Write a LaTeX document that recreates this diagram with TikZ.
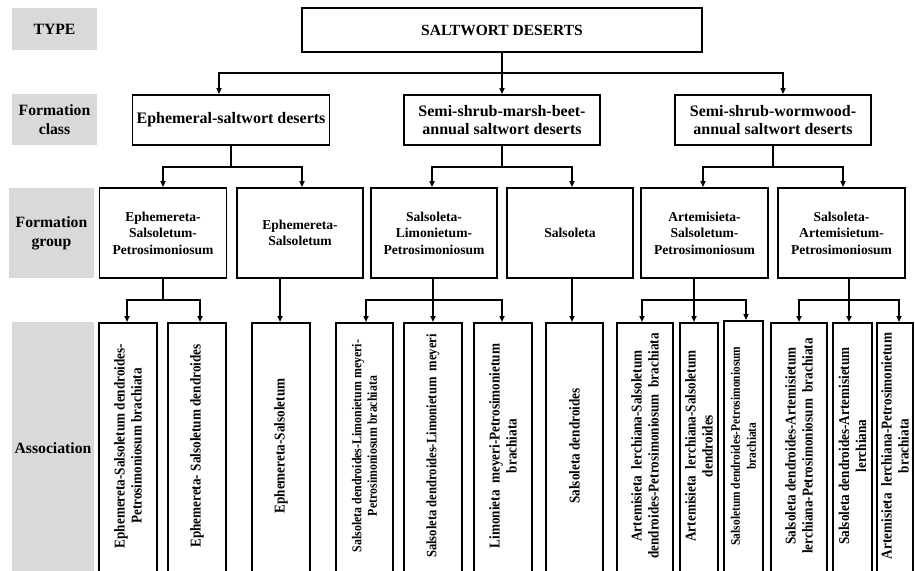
\documentclass[tikz,border=0pt]{standalone}
\usepackage{fontspec}
\setmainfont{Liberation Serif}
\newfontfamily\condserif{Liberation Serif}[FakeStretch=0.88]
\usetikzlibrary{arrows.meta}
\definecolor{labelgray}{HTML}{D9D9D9}

\begin{document}
\begin{tikzpicture}[x=1pt,y=-1pt,
  lbl/.style={fill=labelgray, draw=none, inner sep=0pt, align=center,
    minimum width=85pt, font=\bfseries\fontsize{15.7}{19}\selectfont},
  box/.style={draw, line width=1.8pt, inner sep=0pt, align=center},
  classbox/.style={box, minimum width=196pt, minimum height=50pt,
    font=\bfseries\fontsize{16}{18.5}\selectfont},
  groupbox/.style={box, minimum width=126pt, minimum height=90pt,
    font=\bfseries\fontsize{13.6}{16.5}\selectfont},
  assocbox/.style={box, anchor=north, minimum height=270pt},
  assoctext/.style={rotate=90, inner sep=0pt, align=center,
    font=\condserif\bfseries\fontsize{15}{17}\selectfont},
  link/.style={line width=1.6pt, line cap=rect},
  arrow/.style={link, -{Triangle[length=6pt,width=5pt]}}
]
\useasboundingbox (0,0) rectangle (915,570);
\clip (0,0) rectangle (915,570);

% level labels
\node[lbl, minimum height=42pt] (ltype) at (54.5,29) {TYPE};
\node[lbl, minimum height=51pt] (lclass) at (54.5,119.5) {Formation\\class};
\node[lbl, minimum height=90pt] (lgroup) at (51.5,233) {Formation\\group};
\node[lbl, anchor=north, minimum width=82pt, minimum height=252pt] (lassoc) at (53,322) {Association};

% type
\node[box, minimum width=400pt, minimum height=44pt,
  font=\bfseries\fontsize{15.5}{18}\selectfont] (top) at (502,30) {SALTWORT DESERTS};

% formation classes
\node[classbox, minimum width=197pt] (c1) at (231,120) {Ephemeral-saltwort deserts};
\node[classbox] (c2) at (502,120) {Semi-shrub-marsh-beet-\\annual saltwort deserts};
\node[classbox] (c3) at (773,120) {Semi-shrub-wormwood-\\annual saltwort deserts};

% formation groups
\node[groupbox, minimum width=127pt] (g1) at (163,233) {Ephemereta-\\Salsoletum-\\Petrosimoniosum};
\node[groupbox] (g2) at (300,233) {Ephemereta-\\Salsoletum};
\node[groupbox] (g3) at (434,233) {Salsoleta-\\Limonietum-\\Petrosimoniosum};
\node[groupbox] (g4) at (570,233) {Salsoleta};
\node[groupbox, minimum width=127pt] (g5) at (704.5,233) {Artemisieta-\\Salsoletum-\\Petrosimoniosum};
\node[groupbox, minimum width=127pt] (g6) at (841.5,233) {Salsoleta-\\Artemisietum-\\Petrosimoniosum};

% associations
\node[assocbox, minimum width=58pt] (a1) at (128,322) {};
\node[assocbox, minimum width=58pt] (a2) at (197,322) {};
\node[assocbox, minimum width=58pt] (a3) at (281,322) {};
\node[assocbox, minimum width=57pt] (a4) at (364.5,322) {};
\node[assocbox, minimum width=58pt] (a5) at (433,322) {};
\node[assocbox, minimum width=58pt] (a6) at (503,322) {};
\node[assocbox, minimum width=57pt] (a7) at (574.5,322) {};
\node[assocbox, minimum width=56pt] (a8) at (645,322) {};
\node[assocbox, minimum width=38pt] (a9) at (699,322) {};
\node[assocbox, minimum width=39pt] (a10) at (743.5,320) {};
\node[assocbox, minimum width=56pt] (a11) at (799,322) {};
\node[assocbox, minimum width=39pt] (a12) at (852.5,322) {};
\node[assocbox, minimum width=36pt] (a13) at (895,322) {};

\node[assoctext] (a1t) at (a1.north |- 0,446) {Ephemereta-Salsoletum dendroides-\\Petrosimoniosum brachiata};
\node[assoctext] (a2t) at (a2.north |- 0,446) {Ephemereta- Salsoletum dendroides};
\node[assoctext] (a3t) at (a3.north |- 0,446) {Ephemereta-Salsoletum};
\node[assoctext, font=\condserif\bfseries\fontsize{13.5}{15.5}\selectfont] (a4t) at (a4.north |- 0,446) {Salsoleta dendroides-Limonietum meyeri-\\Petrosimoniosum brachiata};
\node[assoctext, font=\condserif\bfseries\fontsize{14.3}{17}\selectfont] (a5t) at (a5.north |- 0,446) {Salsoleta dendroides-Limonietum\ \ meyeri};
\node[assoctext] (a6t) at (a6.north |- 0,446) {Limonieta\ \ meyeri-Petrosimonietum\\brachiata};
\node[assoctext] (a7t) at (a7.north |- 0,446) {Salsoleta dendroides};
\node[assoctext] (a8t) at (a8.north |- 0,446) {Artemisieta\ \ lerchiana-Salsoletum\\dendroides-Petrosimoniosum\ \ brachiata};
\node[assoctext] (a9t) at (a9.north |- 0,446) {Artemisieta\ \ lerchiana-Salsoletum\\dendroides};
\node[assoctext, font=\condserif\bfseries\fontsize{13}{16}\selectfont] (a10t) at (a10.north |- 0,446) {Salsoletum dendroides-Petrosimoniosum\\brachiata};
\node[assoctext] (a11t) at (a11.north |- 0,446) {Salsoleta dendroides-Artemisietum\\lerchiana-Petrosimoniosum\ \ brachiata};
\node[assoctext] (a12t) at (a12.north |- 0,446) {Salsoleta dendroides-Artemisietum\\lerchiana};
\node[assoctext] (a13t) at (a13.north |- 0,446) {Artemisieta\ \ lerchiana-Petrosimonietum\\brachiata};

% type -> classes
\coordinate (t0) at (502,73);
\coordinate (tl) at (219,73);
\coordinate (tr) at (783,73);
\draw[link] (top.south) -- (t0);
\draw[link] (tl) -- (tr);
\draw[arrow] (tl) -- (tl |- c1.north);
\draw[arrow] (t0) -- (c2.north);
\draw[arrow] (tr) -- (tr |- c3.north);

% classes -> groups
\coordinate (q1) at (163,167);
\coordinate (q2) at (302,167);
\coordinate (q3) at (432,167);
\coordinate (q4) at (572,167);
\coordinate (q5) at (703,167);
\coordinate (q6) at (843,167);
\draw[link] (c1.south) -- (c1.south |- q1);
\draw[link] (q1) -- (q2);
\draw[arrow] (q1) -- (q1 |- g1.north);
\draw[arrow] (q2) -- (q2 |- g2.north);
\draw[link] (c2.south) -- (c2.south |- q3);
\draw[link] (q3) -- (q4);
\draw[arrow] (q3) -- (q3 |- g3.north);
\draw[arrow] (q4) -- (q4 |- g4.north);
\draw[link] (c3.south) -- (c3.south |- q5);
\draw[link] (q5) -- (q6);
\draw[arrow] (q5) -- (q5 |- g5.north);
\draw[arrow] (q6) -- (q6 |- g6.north);

% groups -> associations
\coordinate (r1) at (127,300);
\coordinate (r2) at (200,300);
\coordinate (s2) at (280,300);
\coordinate (r4) at (366,300);
\coordinate (r5) at (433,300);
\coordinate (r6) at (502,300);
\coordinate (s4) at (572,300);
\coordinate (r8) at (642,300);
\coordinate (r9) at (694,300);
\coordinate (r10) at (746,300);
\coordinate (r11) at (799,300);
\coordinate (r12) at (849,300);
\coordinate (r13) at (899,300);

\draw[link] (g1.south) -- (g1.south |- r1);
\draw[link] (r1) -- (r2);
\draw[arrow] (r1) -- (r1 |- a1.north);
\draw[arrow] (r2) -- (r2 |- a2.north);

\draw[arrow] (s2 |- g2.south) -- (s2 |- a3.north);

\draw[link] (r5 |- g3.south) -- (r5);
\draw[link] (r4) -- (r6);
\draw[arrow] (r4) -- (r4 |- a4.north);
\draw[arrow] (r5) -- (r5 |- a5.north);
\draw[arrow] (r6) -- (r6 |- a6.north);

\draw[arrow] (s4 |- g4.south) -- (s4 |- a7.north);

\draw[link] (r9 |- g5.south) -- (r9);
\draw[link] (r8) -- (r10);
\draw[arrow] (r8) -- (r8 |- a8.north);
\draw[arrow] (r9) -- (r9 |- a9.north);
\draw[arrow] (r10) -- (r10 |- a10.north);

\draw[link] (r12 |- g6.south) -- (r12);
\draw[link] (r11) -- (r13);
\draw[arrow] (r11) -- (r11 |- a11.north);
\draw[arrow] (r12) -- (r12 |- a12.north);
\draw[arrow] (r13) -- (r13 |- a13.north);
\end{tikzpicture}
\end{document}
